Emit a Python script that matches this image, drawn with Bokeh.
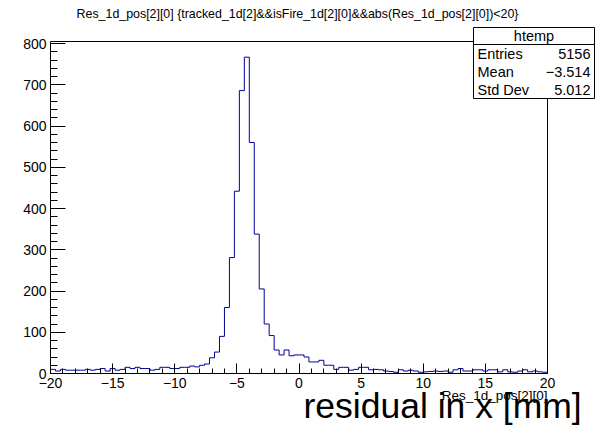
import numpy as np
from bokeh.plotting import figure
from bokeh.models import (Label, BoxAnnotation, LinearAxis, SingleIntervalTicker,
                          FixedTicker, CustomJSTickFormatter, Range1d)
from bokeh.embed import file_html
from bokeh.resources import INLINE

# ---------------- data ----------------
hist_min, hist_max, n_bins = -20.0, 20.0, 100
counts_left_tail = [10, 6, 10, 8, 8, 8, 8, 10, 8, 10, 12, 6, 12, 8, 10, 15, 12, 15, 12, 12,
                    8, 10, 15, 15, 12, 12, 15, 15, 18, 16]
counts_core = [20, 23, 38, 52, 90, 160, 281, 442, 686, 767, 560, 338, 205, 120, 92, 57]
counts_mid_tail = [45, 57, 43, 45, 45, 40, 28, 28, 32, 20, 20, 10, 15, 15, 8, 10, 15, 15, 9, 10,
                   9, 6, 5, 3, 9, 6]
counts_right_tail = [8, 6, 3, 4, 5, 6, 5, 6, 3, 9, 12, 6, 6, 9, 9, 6, 9, 9, 4, 9,
                     4, 3, 6, 9, 4, 6, 4, 3]

title_text = "Res_1d_pos[2][0] {tracked_1d[2]&&isFire_1d[2][0]&&abs(Res_1d_pos[2][0])<20}"
x_title = "Res_1d_pos[2][0]"
extra_text = "residual in x [mm]"
stats_name = "htemp"
stats_keys = ["Entries", "Mean", "Std Dev"]
stats_vals = ["5156", "\u22123.514", "5.012"]

counts = counts_left_tail + counts_core + counts_mid_tail + counts_right_tail
edges = np.linspace(hist_min, hist_max, n_bins + 1)

# ---------------- layout ----------------
W, H = 596, 429
FL, FR, FT, FB = 50, 547, 41, 373          # histogram frame in canvas pixels
XV = (-20.0, 20.0)                          # visible x data window
YV = (0.0, 805.0)                           # visible y data window
FONT = "Liberation Sans"


def dx(px):
    return XV[0] + (px - FL) / (FR - FL) * (XV[1] - XV[0])


def dy(py):
    return YV[0] + (FB - py) / (FB - FT) * (YV[1] - YV[0])


p = figure(width=W, height=H, x_range=Range1d(dx(0), dx(W)), y_range=Range1d(dy(H), dy(0)),
           output_backend="svg", toolbar_location=None, min_border=0,
           min_border_left=0, min_border_right=0, min_border_top=0, min_border_bottom=0)
p.outline_line_color = None
p.background_fill_color = "white"
p.border_fill_color = "white"
p.xgrid.visible = False
p.ygrid.visible = False

minus_fmt = CustomJSTickFormatter(code="return tick < 0 ? '\u2212' + Math.abs(tick) : tick.toString();")

xa = p.xaxis[0]
xa.fixed_location = YV[0]
xa.bounds = XV
xa.ticker = SingleIntervalTicker(interval=5, num_minor_ticks=5)
xa.formatter = minus_fmt
xa.major_tick_in = 10
xa.major_tick_out = 0
xa.minor_tick_in = 5
xa.minor_tick_out = 0
xa.major_label_standoff = 4
xa.major_label_text_font = FONT
xa.major_label_text_font_size = "14px"
xa.major_label_text_color = "black"
xa.axis_line_color = "black"
xa.major_tick_line_color = "black"
xa.minor_tick_line_color = "black"

ya = p.yaxis[0]
ya.fixed_location = XV[0]
ya.bounds = YV
ya.ticker = SingleIntervalTicker(interval=100, num_minor_ticks=5)
ya.formatter = minus_fmt
ya.major_tick_in = 15
ya.major_tick_out = 0
ya.minor_tick_in = 7
ya.minor_tick_out = 0
ya.major_label_standoff = 4
ya.major_label_text_font = FONT
ya.major_label_text_font_size = "14px"
ya.major_label_text_color = "black"
ya.axis_line_color = "black"
ya.major_tick_line_color = "black"
ya.minor_tick_line_color = "black"

for side, loc, bnd in (("above", YV[1], XV), ("right", XV[1], YV)):
    ax = LinearAxis(ticker=FixedTicker(ticks=[], minor_ticks=[]), fixed_location=loc, bounds=bnd,
                    major_tick_line_color=None, minor_tick_line_color=None,
                    major_tick_out=0, minor_tick_out=0, major_label_standoff=0,
                    major_label_text_font_size="0px", axis_line_color="black")
    p.add_layout(ax, side)

# histogram outline
p.step(x=edges, y=counts + [counts[-1]], mode="after", line_color="#000099", line_width=1)


def add_text(px, py, text, size, align):
    # py is the visual centre of the text line, in canvas pixels
    p.add_layout(Label(x=dx(px), y=dy(py), text=text, text_align=align,
                       text_baseline="alphabetic", text_font=FONT,
                       text_font_size=size, text_color="black"))


# title
add_text(297, 13, title_text, "12.4px", "center")
# x axis title
add_text(547, 395, x_title, "13.5px", "right")
# extra big label
add_text(303, 405, extra_text, "35.5px", "left")

# stats box
BL, BR, BT, BS, BB = 473, 594, 27, 44, 98
p.add_layout(BoxAnnotation(left=dx(BL), right=dx(BR), top=dy(BT), bottom=dy(BS),
                           fill_color="white", fill_alpha=1.0, line_color="black",
                           line_alpha=1.0, line_width=1))
p.add_layout(BoxAnnotation(left=dx(BL), right=dx(BR), top=dy(BS), bottom=dy(BB),
                           fill_color="white", fill_alpha=1.0, line_color="black",
                           line_alpha=1.0, line_width=1))
add_text((BL + BR) / 2, (BT + BS) / 2, stats_name, "14.5px", "center")
row_h = (BB - BS) / len(stats_keys)
for i, (k, v) in enumerate(zip(stats_keys, stats_vals)):
    cy = BS + row_h * i + row_h / 2
    add_text(BL + 4, cy, k, "14.5px", "left")
    add_text(BR - 4, cy, v, "14.5px", "right")

open("out.html", "w").write(file_html(p, INLINE))
